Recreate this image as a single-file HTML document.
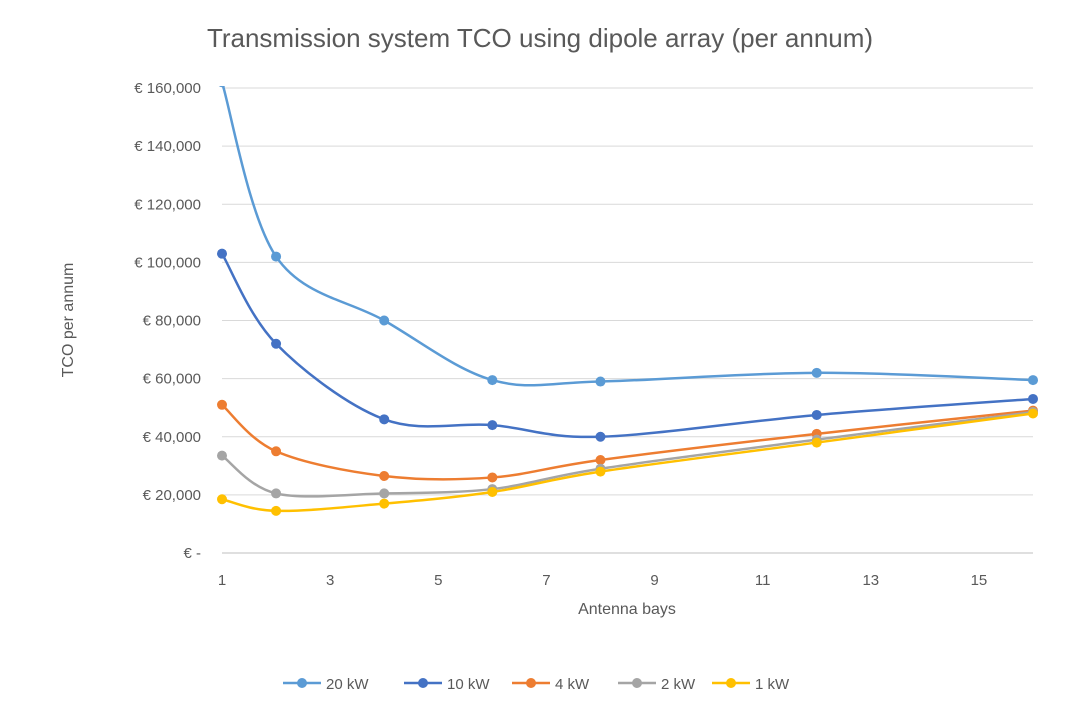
<!DOCTYPE html>
<html><head><meta charset="utf-8"><style>
body{margin:0;background:#fff;font-family:"Liberation Sans",sans-serif;}
svg text{font-family:"Liberation Sans",sans-serif;fill:#595959;}
</style></head><body>
<svg id="chart" width="1079" height="713" xmlns="http://www.w3.org/2000/svg">
<defs><clipPath id="clip"><rect x="200" y="86" width="860" height="470"/></clipPath></defs>
<text x="540" y="47" text-anchor="middle" font-size="26">Transmission system TCO using dipole array (per annum)</text>
<g id="grid"></g><g id="series" clip-path="url(#clip)"></g><g id="legend"></g>
<text x="0" y="0" transform="translate(73,320) rotate(-90)" text-anchor="middle" font-size="16">TCO per annum</text>
<text x="627" y="614" text-anchor="middle" font-size="16">Antenna bays</text>
</svg>
<script>
const xValues=[1,2,4,6,8,12,16];
const seriesNames=["20 kW","10 kW","4 kW","2 kW","1 kW"];
const s20=[162000,102000,80000,59500,59000,62000,59500];
const s10=[103000,72000,46000,44000,40000,47500,53000];
const s4=[51000,35000,26500,26000,32000,41000,49000];
const s2=[33500,20500,20500,22000,29000,39000,48500];
const s1=[18500,14500,17000,21000,28000,38000,48000];
const yTicks=[0,20000,40000,60000,80000,100000,120000,140000,160000];
const xTicks=[1,3,5,7,9,11,13,15];
const colors=["#5B9BD5","#4472C4","#ED7D31","#A5A5A5","#FFC000"];
const allSeries=[s20,s10,s4,s2,s1];
const NS="http://www.w3.org/2000/svg";
const X=v=>222+(v-1)*(1033-222)/15;
const Y=v=>553-v*(553-88)/160000;
function mk(tag,attrs,parent){const e=document.createElementNS(NS,tag);for(const k in attrs)e.setAttribute(k,attrs[k]);parent.appendChild(e);return e;}
const grid=document.getElementById('grid');
yTicks.forEach(t=>{
 const l=mk('line',{x1:222,x2:1033,y1:Y(t),y2:Y(t),stroke:t===0?'#BFBFBF':'#D9D9D9','stroke-width':1},grid);
 
 
 const tx=mk('text',{x:201,y:Y(t)+5,'text-anchor':'end','font-size':15},grid);
 tx.textContent=t===0?'€ -':'€ '+t.toLocaleString('en-US');
 
 
});
xTicks.forEach(t=>{
 const tx=mk('text',{x:X(t),y:585,'text-anchor':'middle','font-size':15},grid);
 tx.textContent=t;
 
 
});
const sg=document.getElementById('series');
allSeries.forEach((s,i)=>{
 const p=xValues.map((x,j)=>[X(x),Y(s[j])]);
 let d='M'+p[0][0]+','+p[0][1];
 for(let j=0;j<p.length-1;j++){
  const p0=p[j-1]||p[j],p1=p[j],p2=p[j+1],p3=p[j+2]||p[j+1];
  const t=6;
  const c1=[p1[0]+(p2[0]-p0[0])/t,p1[1]+(p2[1]-p0[1])/t];
  const c2=[p2[0]-(p3[0]-p1[0])/t,p2[1]-(p3[1]-p1[1])/t];
  d+=` C${c1[0]},${c1[1]} ${c2[0]},${c2[1]} ${p2[0]},${p2[1]}`;
 }
 const path=mk('path',{d:d,fill:'none',stroke:colors[i],'stroke-width':2.5},sg);
 
 
 p.forEach(pt=>{
  const c=mk('circle',{cx:pt[0],cy:pt[1],r:5,fill:colors[i]},sg);
  
  
 });
});
const lg=document.getElementById('legend');
const lx=[283,404,512,618,712];
seriesNames.forEach((n,i)=>{
 const g=mk('g',{},lg);
 
 
 mk('line',{x1:lx[i],x2:lx[i]+38,y1:683,y2:683,stroke:colors[i],'stroke-width':2.5},g);
 mk('circle',{cx:lx[i]+19,cy:683,r:5,fill:colors[i]},g);
 const t=mk('text',{x:lx[i]+43,y:689,'font-size':15},g);
 t.textContent=n;
});
</script>
</body></html>
